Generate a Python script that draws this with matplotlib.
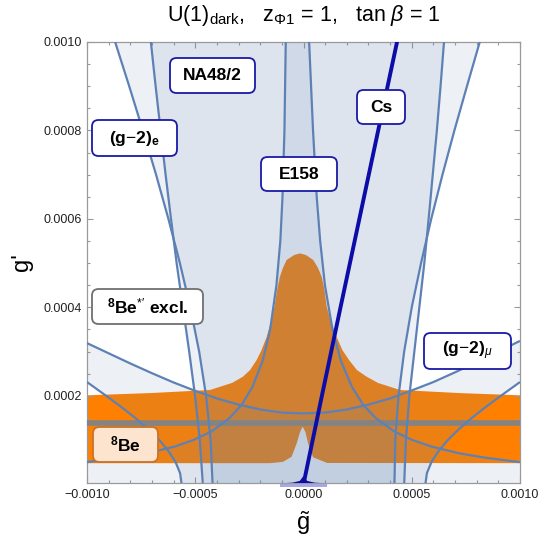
import numpy as np
import matplotlib
matplotlib.use("Agg")
import matplotlib.pyplot as plt
from matplotlib.patches import FancyBboxPatch
from matplotlib.ticker import MultipleLocator, FormatStrFormatter

plt.rcParams['font.family'] = ['Liberation Sans', 'DejaVu Sans']
plt.rcParams['mathtext.fontset'] = 'custom'
plt.rcParams['mathtext.rm'] = 'Liberation Sans'
plt.rcParams['mathtext.it'] = 'Liberation Sans:italic'
plt.rcParams['mathtext.bf'] = 'Liberation Sans:bold'

S = 1e-3  # all values below are in units of 1e-3

# ---- data (units of 1e-3) ----
v_y = [0.0, 0.1, 0.2, 0.3, 0.4, 0.5, 0.6, 0.7, 0.8, 0.9, 1.0]
g2e_left = [-0.420, -0.429, -0.450, -0.482, -0.523, -0.571, -0.624, -0.681, -0.742, -0.805, -0.870]
g2e_right = [0.420, 0.424, 0.439, 0.465, 0.500, 0.543, 0.590, 0.642, 0.697, 0.755, 0.814]
na48_left = [-0.465, -0.479, -0.501, -0.528, -0.557, -0.586, -0.612, -0.637, -0.660, -0.683, -0.705]
na48_right = [0.465, 0.473, 0.489, 0.512, 0.535, 0.558, 0.578, 0.597, 0.616, 0.633, 0.649]

e158_y = [0.05, 0.06, 0.07, 0.085, 0.10, 0.12, 0.15, 0.18, 0.22, 0.28, 0.35, 0.45, 0.55, 0.65, 0.8, 1.0]
e158_left = [-1.001, -0.842, -0.722, -0.596, -0.508, -0.423, -0.341, -0.285, -0.236, -0.188,
             -0.154, -0.125, -0.107, -0.097, -0.088, -0.082]
e158_right = [0.999, 0.838, 0.718, 0.592, 0.502, 0.417, 0.333, 0.275, 0.224, 0.172,
              0.134, 0.099, 0.077, 0.061, 0.044, 0.026]

mu_u_x = [-1.0, -0.9, -0.8, -0.7, -0.6, -0.5, -0.4, -0.3, -0.2, -0.1, 0.0,
          0.1, 0.2, 0.3, 0.4, 0.5, 0.6, 0.7, 0.8, 0.9, 1.0]
mu_u_y = [0.319, 0.296, 0.273, 0.251, 0.230, 0.211, 0.194, 0.180, 0.169, 0.162, 0.160,
          0.162, 0.169, 0.180, 0.194, 0.212, 0.231, 0.253, 0.276, 0.300, 0.324]
mu_s_y = [0.0, 0.025, 0.05, 0.075, 0.1, 0.125, 0.15, 0.175, 0.2, 0.231]
mu_s_x = [0.563, 0.570, 0.591, 0.624, 0.667, 0.719, 0.778, 0.843, 0.912, 1.0]

or_up_x = [-1.0, -0.709, -0.432, -0.330, -0.280, -0.247, -0.216, -0.194, -0.170, -0.148, -0.134,
           -0.122, -0.109, -0.095, -0.078, -0.044, -0.016,
           0.012, 0.045, 0.067, 0.084, 0.097, 0.107, 0.125, 0.153, 0.180, 0.210, 0.247,
           0.292, 0.344, 0.446, 0.723, 1.0]
or_up_y = [0.201, 0.206, 0.213, 0.229, 0.243, 0.258, 0.281, 0.303, 0.333, 0.371, 0.401,
           0.439, 0.469, 0.489, 0.507, 0.518, 0.522,
           0.518, 0.507, 0.489, 0.469, 0.439, 0.401, 0.371, 0.333, 0.303, 0.281, 0.258,
           0.243, 0.229, 0.213, 0.206, 0.201]
or_lo_x = [-1.0, -0.155, -0.095, -0.055, -0.031, -0.016, -0.004, 0.009, 0.021, 0.044, 0.109, 1.0]
or_lo_y = [0.0475, 0.0475, 0.0505, 0.062, 0.093, 0.118, 0.130, 0.118, 0.093, 0.061, 0.048, 0.0475]

be_line_y = 0.1387

cs_y = [0.0, 0.2, 0.4, 0.6, 0.8, 1.0]
cs_x = [0.0, 0.085, 0.171, 0.258, 0.345, 0.432]
cs_foot_x = [-0.11, -0.05, -0.015, 0.0, 0.015, 0.05, 0.11]
cs_foot_y = [0.0, 0.002, 0.006, 0.016, 0.006, 0.002, 0.0]

x_min, x_max = -1.0, 1.0
y_min, y_max = 0.002, 1.0

# ---- figure ----
W, H = 549, 539
fig = plt.figure(figsize=(W / 100, H / 100), dpi=100)
ax = fig.add_axes([87 / W, 1 - 483.3 / H, (520 - 87) / W, (483.3 - 42) / H])

a = lambda v: np.asarray(v) * S
BLUE = '#5e81b5'
FILL_A = 0.11

# orange 8Be region
ox = np.concatenate([a(or_up_x), a(or_lo_x)[::-1]])
oy = np.concatenate([a(or_up_y), a(or_lo_y)[::-1]])
ax.fill(ox, oy, color='#ff8000', lw=0, zorder=1)

# blue layered regions
def poly(xs, ys, **kw):
    ax.fill(xs, ys, color=BLUE, alpha=FILL_A, lw=0, zorder=2, **kw)

poly(np.concatenate([a(g2e_left), a(g2e_right)[::-1]]), np.concatenate([a(v_y), a(v_y)[::-1]]))
poly(np.concatenate([a(na48_left), a(na48_right)[::-1]]), np.concatenate([a(v_y), a(v_y)[::-1]]))
poly(np.concatenate([a(e158_left), a(e158_right)[::-1], a([x_max, x_min])]),
     np.concatenate([a(e158_y), a(e158_y)[::-1], a([0.0, 0.0])]))
mx = np.concatenate([a(mu_u_x), a(mu_s_x)[::-1], -a(mu_s_x)])
my = np.concatenate([a(mu_u_y), a(mu_s_y)[::-1], a(mu_s_y)])
poly(mx, my)

# gray 8Be line
ax.axhline(be_line_y * S, color='#838383', lw=4.0, zorder=3)

# boundary lines
lk = dict(color=BLUE, lw=1.6, zorder=4, solid_capstyle='butt')
ax.plot(a(g2e_left), a(v_y), **lk)
ax.plot(a(g2e_right), a(v_y), **lk)
ax.plot(a(na48_left), a(v_y), **lk)
ax.plot(a(na48_right), a(v_y), **lk)
ax.plot(a(e158_left), a(e158_y), **lk)
ax.plot(a(e158_right), a(e158_y), **lk)
ax.plot(a(mu_u_x), a(mu_u_y), **lk)
ax.plot(a(mu_s_x), a(mu_s_y), **lk)
ax.plot(-a(mu_s_x), a(mu_s_y), **lk)

# Cs band
CS = '#0c0ca8'
ax.plot(a(cs_x), a(cs_y), color=CS, lw=2.8, zorder=5)
ax.fill(a(cs_foot_x), a(cs_foot_y), color=CS, lw=1.0, zorder=5)
ax.fill_between(a([-0.11, 0.11]), -0.006 * S, y_min * S, color='#a8a8e8', lw=0,
                clip_on=False, zorder=0)

ax.set_xlim(x_min * S, x_max * S)
ax.set_ylim(y_min * S, y_max * S)

ax.xaxis.set_major_locator(MultipleLocator(0.0005))
ax.xaxis.set_minor_locator(MultipleLocator(0.0001))
ax.yaxis.set_major_locator(MultipleLocator(0.0002))
ax.yaxis.set_minor_locator(MultipleLocator(0.00005))
ax.xaxis.set_major_formatter(FormatStrFormatter('%.4f'))
ax.yaxis.set_major_formatter(FormatStrFormatter('%.4f'))
ax.tick_params(which='both', direction='in', top=True, right=True, color='#999999',
               labelsize=9, labelcolor='#222222', width=0.8)
ax.tick_params(which='major', length=4.5, pad=4)
ax.tick_params(which='minor', length=2.5)
for sp in ax.spines.values():
    sp.set_color('#9a9a9a')
    sp.set_linewidth(0.9)
ax.set_xticklabels([lbl.get_text().replace('-', '\u2212') for lbl in ax.get_xticklabels()])

fig.text(303.5 / W, 1 - 16 / H, r"U(1)$_\mathrm{dark}$,   z$_{\Phi1}$ = 1,   tan $\beta$ = 1",
         ha='center', va='center', fontsize=15.5)
fig.text(22 / W, 1 - 262 / H, "g'", rotation=90, ha='center', va='center', fontsize=17)
fig.text(303.5 / W, 1 - 523 / H, r"$\tilde{\mathrm{g}}$", ha='center', va='center', fontsize=17)

# label boxes (pixel boxes: x0, y0, x1, y1)
def label(x0, y0, x1, y1, txt, ec='#1a1aa6', fc='white', fs=12.5):
    box = FancyBboxPatch((x0 / W, 1 - y1 / H), (x1 - x0) / W, (y1 - y0) / H,
                         boxstyle='round,pad=0,rounding_size=0.012',
                         transform=fig.transFigure, fc=fc, ec=ec, lw=1.3, zorder=10)
    fig.add_artist(box)
    fig.text((x0 + x1) / 2 / W, 1 - (y0 + y1) / 2 / H, txt, ha='center', va='center',
             fontsize=fs, fontweight='bold', zorder=11)

label(170, 58, 255, 93, "NA48/2")
label(92, 120, 177, 156, r"(g$-$2)$_\mathbf{e}$")
label(261, 157, 337, 191, "E158")
label(357, 90, 405, 124, "Cs")
label(92, 289, 203, 324, r"$^\mathbf{8}$Be$^{*\prime}$ excl.", ec='#707070')
label(424, 333, 511, 369, r"(g$-$2)$_{\mu}$")
label(93, 427, 158, 462, r"$^\mathbf{8}$Be", ec='#c8732a', fc='#fde4cf')

fig.savefig("out.png", dpi=100)
